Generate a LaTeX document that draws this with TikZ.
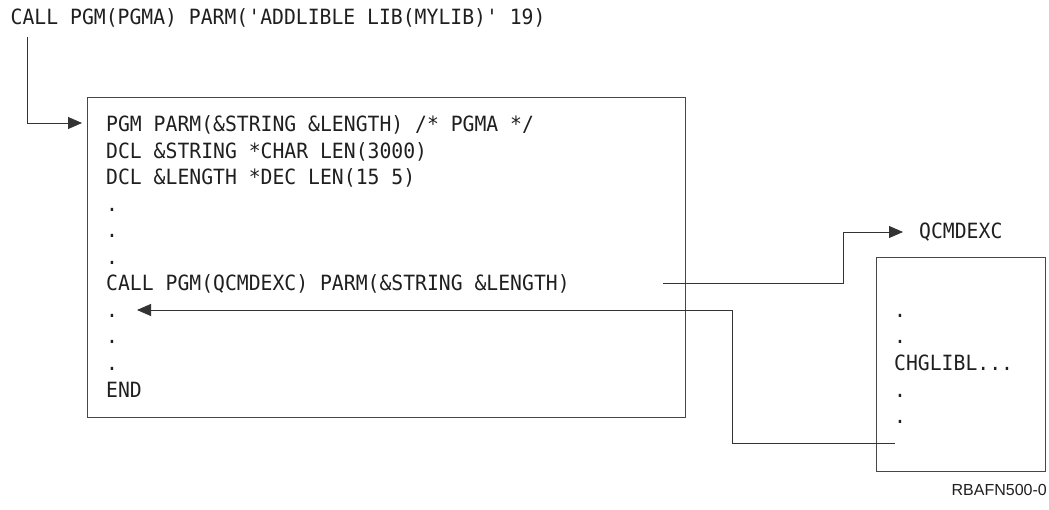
\documentclass[tikz,border=0pt]{standalone}
\usepackage{fontspec}
\setmonofont[FakeStretch=0.94]{DejaVu Sans Mono}
\setsansfont{Liberation Sans}
\usetikzlibrary{arrows.meta}
\begin{document}
\begin{tikzpicture}[x=1pt,y=-1pt,
  code/.style={anchor=base west,inner sep=0pt,font=\ttfamily\fontsize{21}{24}\selectfont,text=black!88},
  frame/.style={draw=black!72,line width=1pt,inner sep=0pt,anchor=north west},
  conn/.style={draw=black!80,line width=0.9pt},
  arr/.style={conn,-{Triangle[length=14pt,width=12pt]}}]
\useasboundingbox (0,0) rectangle (1049,510);
% boxes
\node[frame,minimum width=598pt,minimum height=320pt] (pgma) at (87,97) {};
\node[frame,minimum width=169pt,minimum height=214pt] (qbox) at (876,257) {};
% top command
\node[code] (call0) at (10.5,25) {CALL PGM(PGMA) PARM('ADDLIBLE LIB(MYLIB)' 19)};
% program lines
\foreach \t [count=\i from 0] in {PGM PARM(\&STRING \&LENGTH) /* PGMA */,
  DCL \&STRING *CHAR LEN(3000), DCL \&LENGTH *DEC LEN(15 5), ., ., .,
  CALL PGM(QCMDEXC) PARM(\&STRING \&LENGTH), ., ., ., END}
  \node[code] (m\i) at (106,{132+26.5*\i}) {\t};
% QCMDEXC box lines
\foreach \t [count=\i from 0] in {., ., CHGLIBL.{}.{}., ., .}
  \node[code] (q\i) at (894,{317.5+26.5*\i}) {\t};
\node[code] (qc) at (919,239) {QCMDEXC};
\node[anchor=base east,inner sep=0pt,font=\sffamily\fontsize{16}{18}\selectfont,text=black!88] (fig) at (1047,495) {RBAFN500-0};
% connectors
\coordinate (c0) at (27,37);
\coordinate (in1) at (82,123);
\draw[arr] (c0) |- (in1);
\coordinate (o1) at (663,283);
\coordinate (o2) at (843,232);
\draw[arr,shorten >=16pt] (o1) -| (o2) -- (o2 -| qc.west);
\coordinate (r1) at (895,443);
\coordinate (r2) at (732,310);
\coordinate (r3) at (137,310);
\draw[arr] (r1) -| (r2) -- (r3);
\end{tikzpicture}
\end{document}
